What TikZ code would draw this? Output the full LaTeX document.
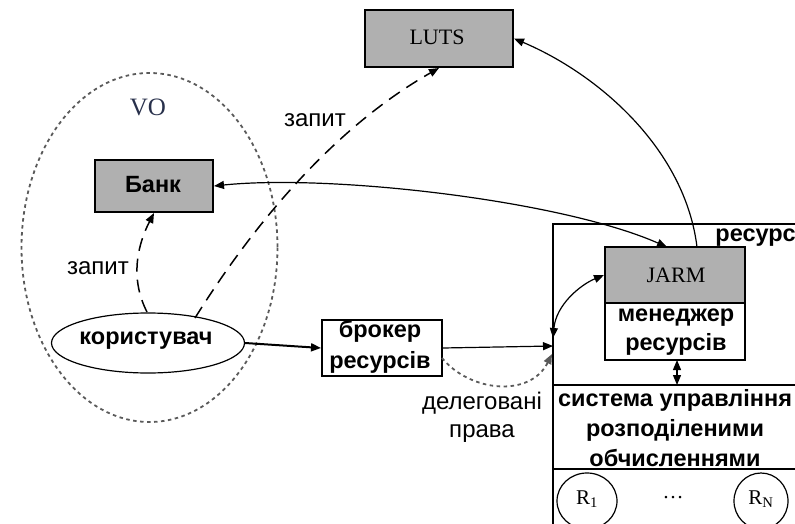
\documentclass[tikz,border=0pt]{standalone}
\usepackage{fontspec}
\setmainfont{Liberation Serif}
\setsansfont{Liberation Sans}
\usetikzlibrary{arrows.meta,shapes.geometric}
\definecolor{boxgray}{RGB}{176,176,176}
\definecolor{dotgray}{RGB}{90,90,90}
\definecolor{voblue}{RGB}{40,48,75}
\tikzset{
  lab/.style={font=\sffamily\fontsize{23.5}{30}\selectfont\bfseries, inner sep=0pt, align=center},
  note/.style={font=\sffamily\fontsize{24}{28}\selectfont, inner sep=0pt, align=center},
  serif/.style={font=\rmfamily\fontsize{22}{26}\selectfont, inner sep=0pt},
  graybox/.style={draw, line width=2pt, fill=boxgray, rectangle, inner sep=0pt},
  whitebox/.style={draw, line width=2pt, fill=white, rectangle, inner sep=0pt},
  tip/.style={-{Triangle[length=10pt,width=8pt]}},
  twotip/.style={{Triangle[length=10pt,width=8pt]}-{Triangle[length=10pt,width=8pt]}},
  conn/.style={line width=1.2pt},
  dashconn/.style={line width=1.5pt, dash pattern=on 13pt off 8pt},
  dotline/.style={line width=1.8pt, dotgray, dash pattern=on 3.5pt off 3.5pt},
}
\begin{document}
\begin{tikzpicture}[x=1pt,y=-1pt]
\useasboundingbox (0,0) rectangle (795,524);

% virtual organisation
\draw[dotline] (149.5,247.5) ellipse [x radius=128, y radius=174.5];
\node[serif, text=voblue, font=\rmfamily\fontsize{25}{28}\selectfont] (vo) at (148,107) {VO};

% main boxes
\node[graybox, minimum width=118pt, minimum height=52pt] (bank) at (154,186) {};
\node[lab] (banktxt) at (153,185) {Банк};
\node[graybox, minimum width=148pt, minimum height=57pt] (luts) at (439,38.5) {};
\node[serif] (lutstxt) at (437,37) {LUTS};
\node[draw, ellipse, line width=1.2pt, minimum width=193pt, minimum height=60pt, inner sep=0pt] (user) at (148,343) {};
\node[lab] (usertxt) at (146,341) {користувач};
\node[whitebox, minimum width=120pt, minimum height=56pt] (broker) at (382,348) {};
\node[lab, font=\sffamily\fontsize{23.5}{31}\selectfont\bfseries] (brokertxt) at (380,347) {брокер\\ресурсів};

% resource with its manager and the distributed computing system
\draw[line width=2pt] (553,524) -- (553,224) -- (795,224);
\draw[line width=2pt] (553,385) -- (795,385);
\draw[line width=2pt] (553,469) -- (795,469);
\node[lab, anchor=east] (res) at (796,238) {ресурс};
\node[graybox, minimum width=140pt, minimum height=56pt] (jarm) at (675,275) {};
\node[serif] (jarmtxt) at (676,275) {JARM};
\node[whitebox, minimum width=140pt, minimum height=57pt] (mgr) at (675,331.5) {};
\node[lab, font=\sffamily\fontsize{23.5}{29}\selectfont\bfseries] (mgrtxt) at (676,332) {менеджер\\ресурсів};
\node[lab] (dcs) at (675,428) {система управління\\розподіленими\\обчисленнями};
\node[draw, ellipse, line width=1.2pt, minimum width=60pt, minimum height=56pt, inner sep=0pt] (r1) at (587,501) {};
\node[serif, font=\rmfamily\fontsize{21}{24}\selectfont] (r1txt) at (587,499) {R\textsubscript{1}};
\node[note, font=\rmfamily\fontsize{21}{24}\selectfont] (dots) at (673,498) {\dots};
\node[draw, ellipse, line width=1.2pt, minimum width=54pt, minimum height=56pt, inner sep=0pt] (rn) at (761,501) {};
\node[serif, font=\rmfamily\fontsize{21}{24}\selectfont] (rntxt) at (761,499) {R\textsubscript{N}};

\coordinate (resin) at (553,346);
\coordinate (resdel) at (552,354);
\coordinate (resside) at (553,338);

% connectors
\draw[conn, tip, line width=2pt] (user.east) -- (broker.west);
\draw[conn, tip] (broker.east) -- (resin);
\draw[dotline, tip] (442,358) .. controls (470,392) and (530,398) .. (resdel);
\draw[dashconn, tip] (147,312) .. controls (128,275) and (140,240) .. (bank.south);
\draw[dashconn, tip] (195,318) .. controls (250,230) and (330,130) .. (luts.south);
\draw[conn, twotip] (bank.east) .. controls (330,174) and (560,200) .. (667,247);
\draw[conn, tip] (697,247) .. controls (685,150) and (600,75) .. (luts.east);
\draw[conn, twotip] (resside) .. controls (556,305) and (580,285) .. (jarm.west);
\draw[conn, twotip] (677,360) -- (677,385);

% labels
\node[note] (ask1) at (98,268) {запит};
\node[note] (ask2) at (315,120) {запит};
\node[note] (deleg) at (482,417) {делеговані\\права};
\end{tikzpicture}
\end{document}
